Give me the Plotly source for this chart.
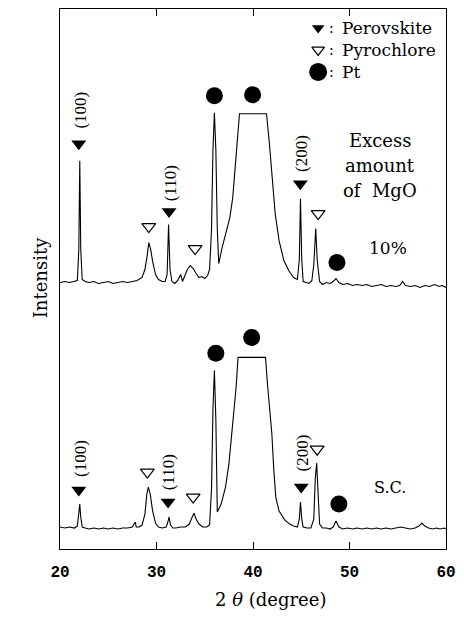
import plotly.graph_objects as go

# ---------------- data ----------------
two_theta_mgo = [20.0, 20.5, 21.0, 21.5, 21.8, 21.95, 22.05, 22.15, 22.3, 22.6, 23.0, 23.5, 24.0, 24.5,
                 25.0, 25.5, 26.0, 26.5, 27.0, 27.5, 28.0, 28.5, 28.8, 29.05, 29.2, 29.4, 29.6, 29.9,
                 30.2, 30.6, 30.9, 31.1, 31.25, 31.4, 31.6, 31.9, 32.2, 32.5, 32.7, 32.9, 33.2, 33.5,
                 33.8, 34.1, 34.4, 34.7, 35.0, 35.3, 35.5, 35.7, 35.85, 36.0, 36.15, 36.3, 36.45, 36.8,
                 37.2, 37.6, 37.9, 38.2, 38.45, 38.6, 39.5, 40.5, 41.4, 41.7, 42.0, 42.3, 42.7, 43.2,
                 43.7, 44.2, 44.6, 44.8, 44.92, 45.05, 45.2, 45.5, 45.8, 46.1, 46.3, 46.5, 46.65, 46.9,
                 47.2, 47.6, 48.0, 48.3, 48.6, 48.9, 49.3, 49.8, 50.3, 50.8, 51.3, 51.8, 52.3, 52.8,
                 53.3, 53.8, 54.3, 54.8, 55.2, 55.5, 55.8, 56.3, 56.8, 57.3, 57.8, 58.3, 58.8, 59.3,
                 59.6, 60.0]
intensity_mgo = [267, 268, 267, 268, 269, 300, 389, 300, 270, 268, 267, 268, 266, 267,
                 268, 266, 267, 268, 267, 268, 269, 272, 280, 295, 307, 300, 288, 275,
                 270, 268, 268, 275, 325, 280, 268, 266, 269, 275, 268, 273, 280, 284,
                 281, 276, 272, 273, 271, 274, 280, 320, 400, 437, 400, 320, 286, 302,
                 316, 332, 352, 392, 422, 436, 436, 436, 436, 406, 372, 336, 309, 289,
                 279, 272, 270, 290, 351, 290, 268, 267, 266, 269, 285, 321, 290, 268,
                 265, 267, 266, 268, 271, 267, 265, 266, 264, 265, 264, 265, 263, 264,
                 265, 263, 264, 263, 264, 268, 264, 263, 264, 262, 264, 263, 265, 263,
                 264, 262]

two_theta_sc = [20.0, 20.5, 21.0, 21.5, 21.8, 21.95, 22.05, 22.15, 22.3, 22.6, 23.0, 23.5, 24.0, 24.5,
                25.0, 25.5, 26.0, 26.5, 27.0, 27.5, 27.8, 27.9, 28.2, 28.5, 28.8, 29.0, 29.15, 29.35,
                29.6, 29.9, 30.2, 30.6, 31.0, 31.15, 31.3, 31.45, 31.7, 32.0, 32.5, 33.0, 33.4, 33.7,
                33.9, 34.1, 34.4, 34.8, 35.2, 35.5, 35.7, 35.85, 36.0, 36.15, 36.3, 36.7, 37.15, 37.5,
                37.8, 38.05, 38.25, 38.45, 39.5, 40.5, 41.3, 41.5, 41.7, 41.95, 42.15, 42.36, 42.7, 43.3,
                43.8, 44.2, 44.6, 44.8, 44.92, 45.05, 45.2, 45.6, 46.0, 46.3, 46.45, 46.6, 46.75, 46.9,
                47.2, 47.6, 48.0, 48.3, 48.6, 48.9, 49.3, 49.8, 50.3, 50.8, 51.3, 51.8, 52.3, 52.8,
                53.3, 53.8, 54.3, 54.8, 55.3, 55.8, 56.3, 56.8, 57.2, 57.5, 57.8, 58.2, 58.6, 59.0,
                59.4, 59.8, 60.0]
intensity_sc = [22, 21, 22, 21, 23, 35, 45, 32, 22, 21, 20, 21, 20, 21,
                20, 21, 20, 21, 21, 22, 27, 22, 22, 24, 35, 55, 62, 55,
                38, 26, 22, 21, 22, 26, 32, 24, 21, 21, 22, 22, 25, 32,
                36, 30, 25, 22, 22, 24, 60, 140, 179, 130, 37, 45, 62, 85,
                116, 140, 162, 192, 192, 192, 192, 165, 145, 116, 80, 52, 38, 29,
                25, 23, 22, 30, 47, 30, 22, 21, 21, 30, 70, 86, 55, 25,
                21, 21, 20, 22, 28, 22, 20, 21, 20, 21, 20, 21, 20, 21,
                20, 21, 20, 21, 22, 21, 20, 21, 23, 26, 23, 21, 20, 21,
                20, 21, 20]

x_tick_vals = [20, 30, 40, 50, 60]
x_tick_text = ["20", "30", "40", "50", "60"]

# phase markers: (2theta, height, phase)
markers_mgo = [(21.95, 406, "per"), (29.2, 323, "pyr"), (31.3, 338, "per"), (34.0, 301, "pyr"),
               (36.0, 454, "pt"), (39.96, 455, "pt"), (44.9, 366, "per"), (46.75, 336, "pyr"),
               (48.7, 287, "pt")]
markers_sc = [(21.95, 59, "per"), (29.05, 77, "pyr"), (31.2, 47, "per"), (33.8, 52, "pyr"),
              (36.15, 196, "pt"), (39.86, 212, "pt"), (45.0, 62, "per"), (46.65, 100, "pyr"),
              (48.9, 45, "pt")]
hkl_labels = [(22.15, 440, "(100)"), (31.45, 367, "(110)"), (45.1, 396, "(200)"),
              (22.05, 91, "(100)"), (31.2, 77, "(110)"), (45.1, 96, "(200)")]

legend_items = [("per", "Perovskite", 522), ("pyr", "Pyrochlore", 500), ("pt", "Pt", 478)]

# ---------------- styles ----------------
SERIF = "DejaVu Serif"
sym = {"per": dict(symbol="triangle-down", size=13, color="black", line=dict(width=0)),
       "pyr": dict(symbol="triangle-down-open", size=12, color="black", line=dict(width=1.2)),
       "pt": dict(symbol="circle", size=17, color="black", line=dict(width=0))}

fig = go.Figure()
fig.add_trace(go.Scatter(x=two_theta_mgo, y=intensity_mgo, mode="lines",
                         line=dict(color="black", width=1.1), showlegend=False, hoverinfo="skip"))
fig.add_trace(go.Scatter(x=two_theta_sc, y=intensity_sc, mode="lines",
                         line=dict(color="black", width=1.1), showlegend=False, hoverinfo="skip"))

for group in (markers_mgo, markers_sc):
    for kind in ("per", "pyr", "pt"):
        pts = [p for p in group if p[2] == kind]
        fig.add_trace(go.Scatter(x=[p[0] for p in pts], y=[p[1] for p in pts], mode="markers",
                                 marker=sym[kind], showlegend=False, hoverinfo="skip"))

# legend drawn inside the frame
for kind, name, yv in legend_items:
    m = dict(sym[kind])
    if kind == "pt":
        m = dict(m, size=18)
    else:
        m = dict(m, size=11)
    fig.add_trace(go.Scatter(x=[46.75], y=[yv], mode="markers", marker=m,
                             showlegend=False, hoverinfo="skip"))
    fig.add_annotation(x=48.15, y=yv, text=":", showarrow=False, xanchor="center",
                       font=dict(family=SERIF, size=14, color="black"))
    fig.add_annotation(x=49.0, y=yv, text=name, showarrow=False, xanchor="left",
                       font=dict(family=SERIF, size=17, color="black"))

for xv, yv, t in hkl_labels:
    fig.add_annotation(x=xv, y=yv, text=t, showarrow=False, textangle=-90,
                       font=dict(family="Liberation Serif", size=17, color="black"))

for t, yv in [("Excess", 409), ("amount", 384), ("of  MgO", 359)]:
    fig.add_annotation(x=53.2, y=yv, text=t, showarrow=False,
                       font=dict(family=SERIF, size=18, color="black"))
fig.add_annotation(x=54.0, y=302, text="10%", showarrow=False,
                   font=dict(family=SERIF, size=17, color="black"))
fig.add_annotation(x=54.2, y=62, text="S.C.", showarrow=False,
                   font=dict(family=SERIF, size=16, color="black"))

# axis titles
fig.add_annotation(xref="paper", yref="paper", x=(272 - 60) / 389, y=(549 - 612) / 541,
                   text="2 <i>θ</i> (degree)", showarrow=False,
                   font=dict(family=SERIF, size=18, color="black"))
fig.add_annotation(xref="paper", yref="paper", x=(28 - 60) / 389, y=(549 - 277) / 541,
                   text="Intensity", showarrow=False, textangle=-90,
                   font=dict(family=SERIF, size=18, color="black"))

fig.update_xaxes(range=[20, 60], tickvals=x_tick_vals, ticktext=x_tick_text,
                 ticks="inside", ticklen=7, tickwidth=1, tickcolor="black",
                 showline=True, linecolor="black", linewidth=1, mirror="ticks",
                 showgrid=False, zeroline=False, ticklabelstandoff=8,
                 tickfont=dict(family="Liberation Mono", size=16, color="black", weight="bold"))
fig.update_yaxes(range=[0, 541], showticklabels=False, ticks="",
                 showline=True, linecolor="black", linewidth=1, mirror=True,
                 showgrid=False, zeroline=False)

fig.update_layout(width=464, height=626, margin=dict(l=60, r=15, t=8, b=77),
                  paper_bgcolor="white", plot_bgcolor="white", showlegend=False)

fig.write_html("out.html")
